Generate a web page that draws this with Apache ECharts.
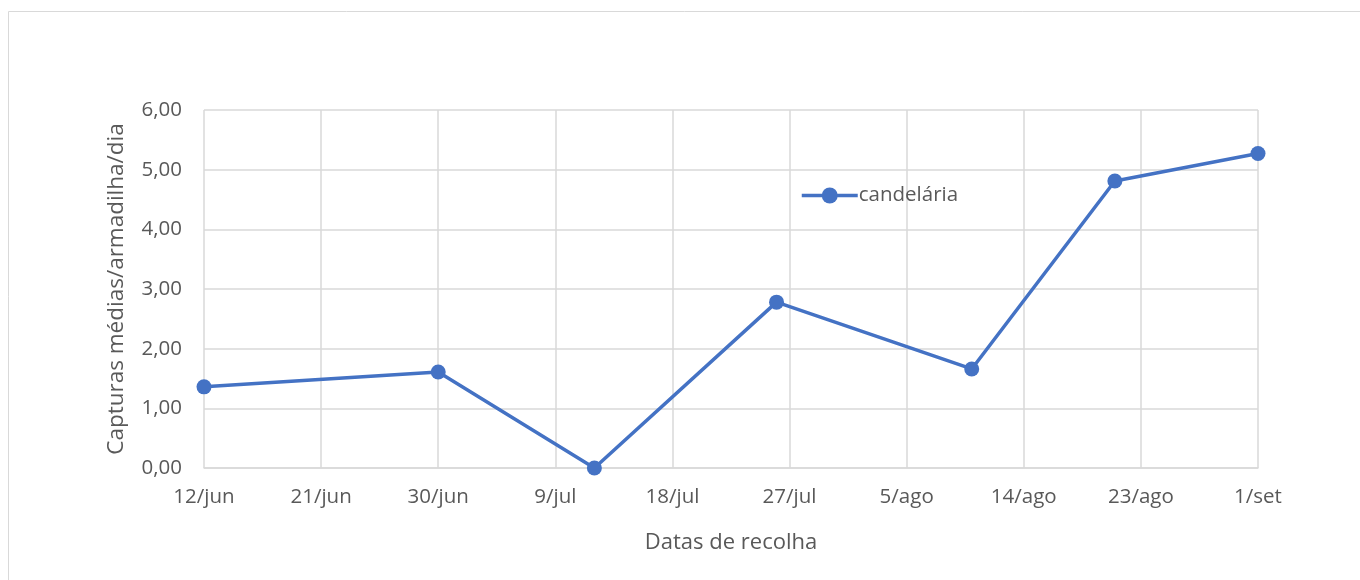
<!DOCTYPE html>
<html><head><meta charset="utf-8">
<script src="https://cdn.jsdelivr.net/npm/echarts@6/dist/echarts.min.js"></script>
<style>html,body{margin:0;padding:0;background:#fff}#c{width:1360px;height:580px}</style>
</head><body><div id="c"></div>
<script>
const startDate = '2000-06-12';
const tickLabels = ['12/jun','21/jun','30/jun','9/jul','18/jul','27/jul','5/ago','14/ago','23/ago','1/set'];
const dates = ['2000-06-12','2000-06-30','2000-07-12','2000-07-26','2000-08-10','2000-08-21','2000-09-01'];
const values = [1.36, 1.61, 0.00, 2.78, 1.66, 4.81, 5.27];
const seriesName = 'candelária';

const DAY = 86400000;
const t0 = Date.parse(startDate);
const data = dates.map((d, i) => [(Date.parse(d) - t0) / DAY, values[i]]);
const font = '"Open Sans", sans-serif';
const chart = echarts.init(document.getElementById('c'));
chart.setOption({
  animation: false,
  graphic: [{type:'rect', shape:{x:8.5,y:11.5,width:1400,height:600}, style:{fill:'none', stroke:'#d9d9d9', lineWidth:1}}],
  grid: {left:204, right:102, top:110, bottom:112},
  legend: {left:795, top:180, itemWidth:56, itemHeight:20, itemGap:4,
    lineStyle:{width:3.5},
    textStyle:{color:'#595959', fontSize:20.5, fontFamily:font, padding:[0,0,0,-4]},
    data:[{name:seriesName}]},
  xAxis: {type:'value', min:0, max:81, interval:9,
    name:'Datas de recolha', nameLocation:'middle', nameGap:64,
    nameTextStyle:{color:'#595959', fontSize:22, fontFamily:font},
    axisLine:{show:true, lineStyle:{color:'#d9d9d9', width:1.5}}, axisTick:{show:false},
    splitLine:{show:true, lineStyle:{color:'#d9d9d9', width:1.5}},
    axisLabel:{color:'#595959', fontSize:20.5, fontFamily:font, margin:19,
      formatter: v => tickLabels[Math.round(v/9)] || ''}},
  yAxis: {type:'value', min:0, max:6, interval:1,
    name:'Capturas médias/armadilha/dia', nameLocation:'middle', nameGap:76, nameRotate:90,
    nameTextStyle:{color:'#595959', fontSize:22.5, fontFamily:font},
    axisLine:{show:false}, axisTick:{show:false},
    splitLine:{show:true, lineStyle:{color:'#d9d9d9', width:1.5}},
    axisLabel:{color:'#595959', fontSize:20.5, fontFamily:font, margin:22,
      formatter: v => v.toFixed(2).replace('.', ',')}},
  series: [{name:seriesName, type:'line', data:data, symbol:'circle', symbolSize:15,
    lineStyle:{color:'#4472C4', width:3.5}, itemStyle:{color:'#4472C4'}}]
});
</script></body></html>
